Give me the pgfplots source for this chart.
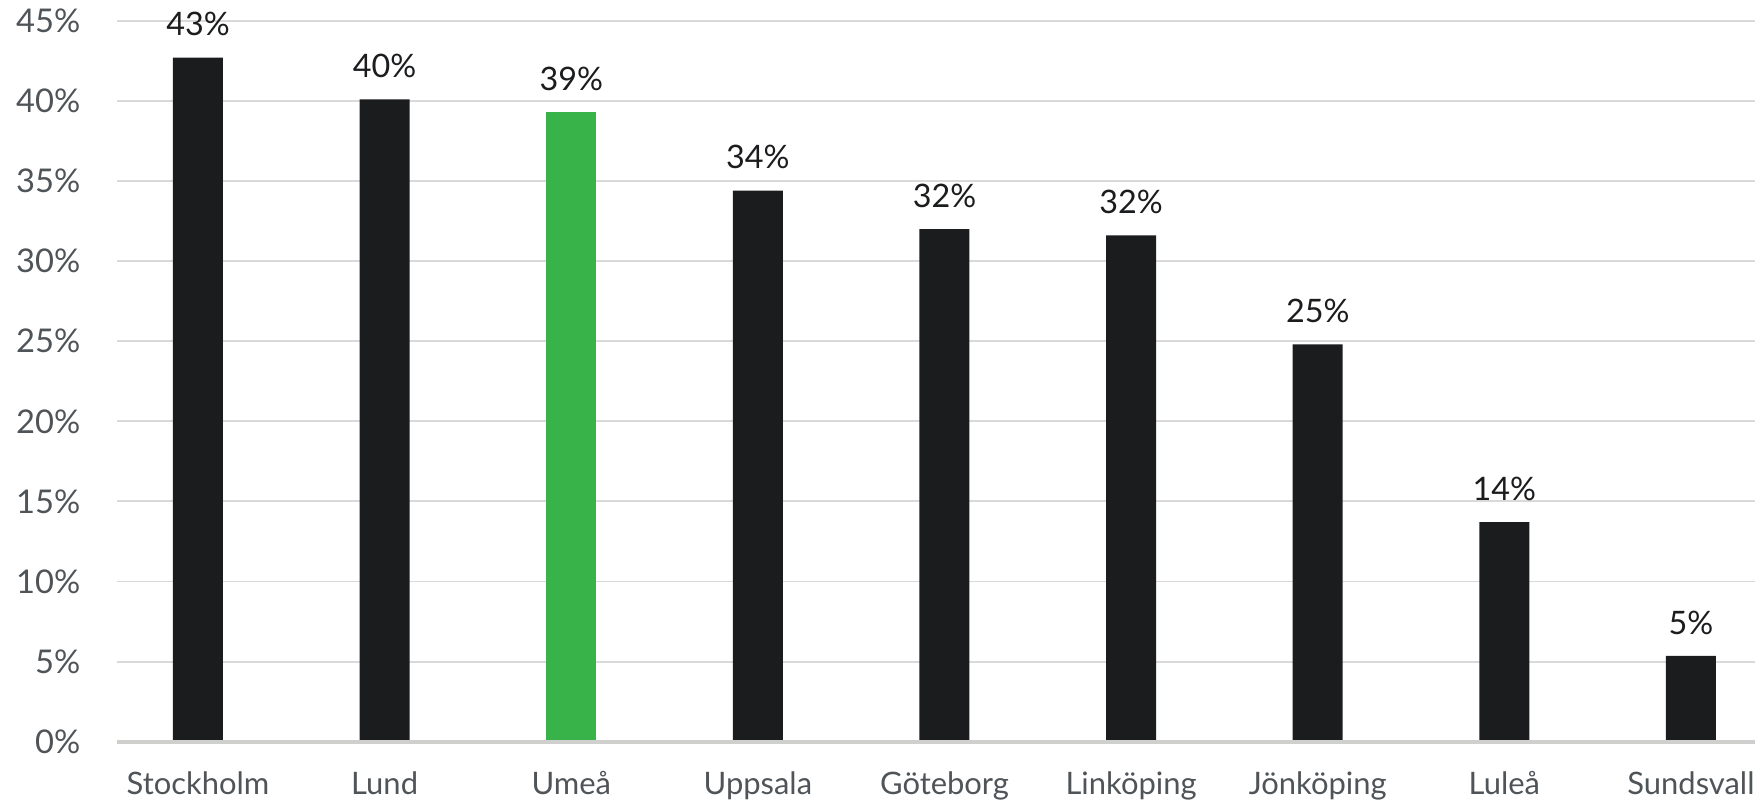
\documentclass[border=0pt]{standalone}
\usepackage{fontspec}
\setmainfont{Lato}
\usepackage{pgfplots}
\pgfplotsset{compat=1.18}

\definecolor{barblack}{HTML}{1B1C1E}
\definecolor{bargreen}{HTML}{37B34A}
\definecolor{gridgray}{HTML}{D9D9D9}
\definecolor{axisgray}{HTML}{CFD0CE}
\definecolor{ticktext}{HTML}{4F5458}

\begin{document}
\begin{tikzpicture}
\fontsize{9.2}{11}\selectfont
\begin{axis}[
    at={(0,0)}, anchor=south west,
    scale only axis,
    width=16.38cm, height=7.417cm,
    xmin=-0.434, xmax=8.343,
    ymin=0, ymax=46.3,
    ytick={0,5,...,45},
    yticklabels={0\%,5\%,10\%,15\%,20\%,25\%,30\%,35\%,40\%,45\%},
    xtick={0,...,8},
    xticklabels={Stockholm,Lund,Umeå,Uppsala,Göteborg,Linköping,Jönköping,Luleå,Sundsvall},
    major tick length=0pt,
    axis line style={draw=none},
    ymajorgrids,
    grid style={color=gridgray, line width=0.55pt},
    yticklabel style={anchor=east, inner sep=0pt, xshift=-0.36cm, text=ticktext, font=\fontsize{9.3}{11}\selectfont},
    xticklabel style={anchor=base, inner sep=0pt, yshift=-0.53cm, text=ticktext, font=\fontsize{8.8}{11}\selectfont},
    /pgf/number format/assume math mode=true,
    ybar, bar width=0.5cm, bar shift=0pt,
    nodes near coords={\pgfmathprintnumber[fixed,precision=0]{\pgfplotspointmeta}\%},
    every node near coord/.append style={font=\fontsize{9.2}{11}\selectfont, text=barblack, yshift=0.1cm},
    clip=false,
]
\addplot[fill=barblack, draw=none] coordinates {
    (0,42.7) (1,40.1) (3,34.4) (4,32.0) (5,31.6) (6,24.8) (7,13.7) (8,5.35)
};
\addplot[fill=bargreen, draw=none] coordinates {
    (2,39.3)
};
\draw[axisgray, line width=1.1pt] (rel axis cs:0,0) -- (rel axis cs:1,0);
\end{axis}
\pgfresetboundingbox
\path[use as bounding box] (-1.17cm,-0.603cm) rectangle (16.38cm,7.417cm);
\end{tikzpicture}
\end{document}
